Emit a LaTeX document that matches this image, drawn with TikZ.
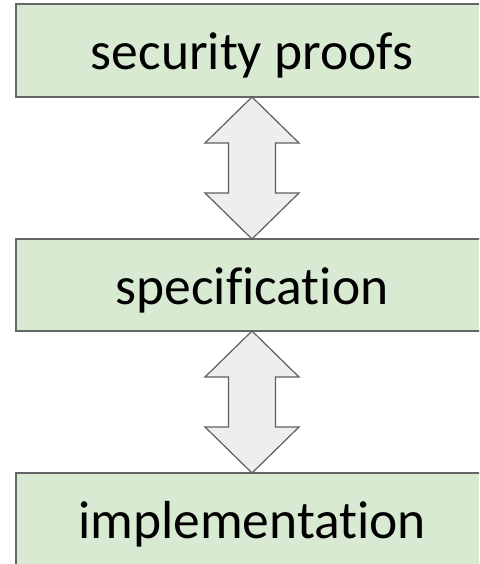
\documentclass[tikz,border=0pt]{standalone}
\usepackage{fontspec}
\setmainfont[Ligatures={NoCommon}]{Carlito}
\usetikzlibrary{calc}
\definecolor{boxgreen}{HTML}{D9EAD3}
\definecolor{boxline}{HTML}{666666}
\definecolor{arrowfill}{HTML}{EEEEEE}
\definecolor{arrowline}{HTML}{5F5F5F}
\tikzset{
  layerbox/.style={draw=boxline, fill=boxgreen, line width=1.2pt, rectangle,
    minimum width=472pt, inner sep=0pt, outer sep=0pt,
    font=\fontsize{53.5}{58}\selectfont, text height=44pt, text depth=6pt},
  dblarrow/.style={draw=arrowline, fill=arrowfill, line width=1.2pt, line join=miter}
}
\begin{document}
\begin{tikzpicture}[x=1pt, y=-1pt]
  \useasboundingbox (0,0) rectangle (479,564);
  \clip (0,0) rectangle (479,564);
  % the three layers
  \node[layerbox, minimum height=93pt] (proofs) at (252,50.5) {security proofs};
  \node[layerbox, minimum height=92pt] (spec) at (252,285) {specification};
  \node[layerbox, minimum height=92pt] (impl) at (252,519) {implementation};
  % two-way block arrows between neighbouring layers
  \foreach \up/\down in {proofs/spec, spec/impl}{
    \draw[dblarrow] (\up.south) -- ($(\up.south)+(47,46)$) -- ($(\up.south)+(23.5,46)$)
      -- ($(\down.north)+(23.5,-46)$) -- ($(\down.north)+(47,-46)$) -- (\down.north)
      -- ($(\down.north)+(-47,-46)$) -- ($(\down.north)+(-23.5,-46)$)
      -- ($(\up.south)+(-23.5,46)$) -- ($(\up.south)+(-47,46)$) -- cycle;
  }
\end{tikzpicture}
\end{document}
